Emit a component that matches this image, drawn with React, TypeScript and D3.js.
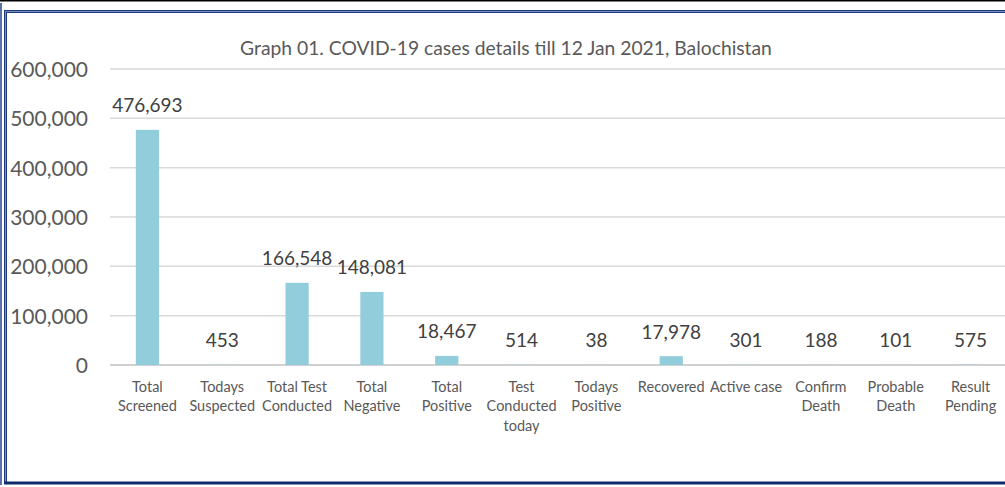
import { useEffect, useRef } from "react";
import * as d3 from "d3";

const categories = [
  ["Total", "Screened"],
  ["Todays", "Suspected"],
  ["Total Test", "Conducted"],
  ["Total", "Negative"],
  ["Total", "Positive"],
  ["Test", "Conducted", "today"],
  ["Todays", "Positive"],
  ["Recovered"],
  ["Active case"],
  ["Confirm", "Death"],
  ["Probable", "Death"],
  ["Result", "Pending"],
];
const values = [476693, 453, 166548, 148081, 18467, 514, 38, 17978, 301, 188, 101, 575];
const yTicks = [0, 100000, 200000, 300000, 400000, 500000, 600000];
const title = "Graph 01. COVID-19 cases details till 12 Jan 2021, Balochistan";

export default function App() {
  const ref = useRef<HTMLDivElement>(null);

  useEffect(() => {
    const container = d3.select(ref.current);
    container.selectAll("*").remove();

    const width = 1005;
    const height = 487;
    const margin = { top: 69, right: -3, bottom: 122, left: 110 };
    const font = "Lato, 'Open Sans', sans-serif";

    const svg = container
      .append("svg")
      .attr("width", width)
      .attr("height", height)
      .style("display", "block")
      .style("font-family", font);

    svg.append("rect").attr("width", width).attr("height", height).attr("fill", "#fff");

    // frame
    svg.append("line").attr("x1", 0).attr("x2", width).attr("y1", 0.75).attr("y2", 0.75)
      .attr("stroke", "#000").attr("stroke-width", 1.5);
    svg.append("line").attr("x1", 1).attr("x2", 1).attr("y1", 3).attr("y2", 485)
      .attr("stroke", "#5b72a6").attr("stroke-width", 2);
    svg.append("path").attr("d", `M5.5,484 V11.5 H${width}`)
      .attr("fill", "none").attr("stroke", "#1f3a7a").attr("stroke-width", 3);
    svg.append("path").attr("d", `M5.5,484 V11.5 H${width}`)
      .attr("fill", "none").attr("stroke", "#8fa3cc").attr("stroke-width", 0.8);
    svg.append("line").attr("x1", 4).attr("x2", width).attr("y1", 483).attr("y2", 483)
      .attr("stroke", "#0f2a6b").attr("stroke-width", 3);

    const x = d3
      .scaleBand()
      .domain(categories.map((_, i) => String(i)))
      .range([margin.left, width - margin.right])
      .paddingInner(0.69)
      .paddingOuter(0.345);

    const y = d3
      .scaleLinear()
      .domain([0, 600000])
      .range([height - margin.bottom, margin.top]);

    const fmt = d3.format(",");

    svg
      .append("g")
      .selectAll("line")
      .data(yTicks)
      .enter()
      .append("line")
      .attr("x1", margin.left)
      .attr("x2", width)
      .attr("y1", (d) => y(d))
      .attr("y2", (d) => y(d))
      .attr("stroke", (d) => (d === 0 ? "#d0d0d0" : "#d9d9d9"))
      .attr("stroke-width", (d) => (d === 0 ? 2 : 1.5));

    svg
      .append("g")
      .selectAll("text")
      .data(yTicks)
      .enter()
      .append("text")
      .attr("x", 88)
      .attr("y", (d) => y(d) + 8)
      .attr("text-anchor", "end")
      .attr("fill", "#595959")
      .style("font-size", "21px")
      .text((d) => fmt(d));

    svg
      .append("g")
      .selectAll("rect")
      .data(values)
      .enter()
      .append("rect")
      .attr("x", (_, i) => x(String(i)) as number)
      .attr("y", (d) => y(d))
      .attr("width", x.bandwidth())
      .attr("height", (d) => y(0) - y(d))
      .attr("fill", "#92cddc");

    svg
      .append("g")
      .selectAll("text")
      .data(values)
      .enter()
      .append("text")
      .attr("x", (_, i) => (x(String(i)) as number) + x.bandwidth() / 2)
      .attr("y", (d) => y(d) - 17.5)
      .attr("text-anchor", "middle")
      .attr("fill", "#404040")
      .style("font-size", "19px")
      .text((d) => fmt(d));

    const cat = svg
      .append("g")
      .selectAll("text")
      .data(categories)
      .enter()
      .append("text")
      .attr("x", (_, i) => (x(String(i)) as number) + x.bandwidth() / 2)
      .attr("y", 391.5)
      .attr("text-anchor", "middle")
      .attr("fill", "#595959")
      .style("font-size", "14.5px");
    cat
      .selectAll("tspan")
      .data((d) => d)
      .enter()
      .append("tspan")
      .attr("x", function () {
        return (this as SVGTSpanElement).parentElement!.getAttribute("x");
      })
      .attr("dy", (_, j) => (j === 0 ? 0 : 19.5))
      .text((d) => d);

    svg
      .append("text")
      .attr("x", 506)
      .attr("y", 55)
      .attr("text-anchor", "middle")
      .attr("fill", "#595959")
      .style("font-size", "19.3px")
      .text(title);
  }, []);

  return <div ref={ref} style={{ position: "fixed", left: 0, top: 0 }} />;
}
